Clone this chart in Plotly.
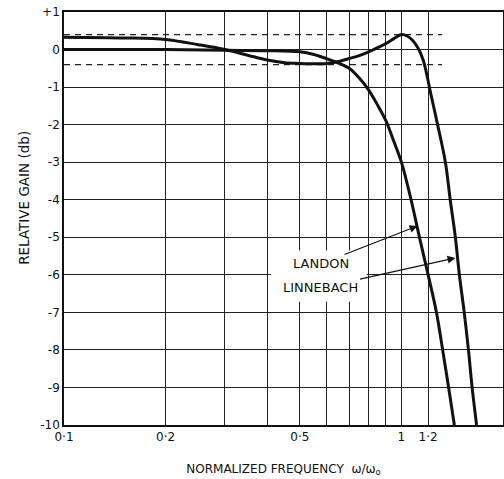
import numpy as np
import plotly.graph_objects as go

# ---- data ----
landon_f = [0.1, 0.2, 0.3, 0.4, 0.5, 0.55, 0.6, 0.65, 0.7, 0.75, 0.8, 0.85, 0.9,
            0.95, 1.0, 1.068, 1.131, 1.2, 1.27, 1.325, 1.38, 1.435]
landon_db = [0.0, 0.0, -0.02, -0.03, -0.06, -0.13, -0.24, -0.36, -0.5, -0.76, -1.08,
             -1.48, -1.9, -2.45, -3.0, -4.0, -5.0, -6.0, -7.0, -8.0, -9.0, -10.0]

linne_f = [0.1, 0.15, 0.2, 0.25, 0.3, 0.35, 0.4, 0.45, 0.5, 0.55, 0.6, 0.65, 0.7,
           0.75, 0.8, 0.85, 0.9, 0.95, 1.0, 1.04, 1.08, 1.12, 1.16, 1.19, 1.22,
           1.28, 1.35, 1.395, 1.445, 1.485, 1.535, 1.58, 1.62, 1.67]
linne_db = [0.33, 0.31, 0.27, 0.13, 0.0, -0.15, -0.28, -0.35, -0.37, -0.38, -0.37,
            -0.32, -0.24, -0.16, -0.06, 0.05, 0.16, 0.29, 0.4, 0.36, 0.24, 0.04,
            -0.28, -0.68, -1.15, -2.0, -3.0, -4.0, -5.0, -6.0, -7.0, -8.0, -9.0,
            -10.0]

tol_f = [0.1, 1.32]
tol_db = [0.4, -0.4]

x_ticks = [0.1, 0.2, 0.5, 1.0, 1.2, 2.0]
x_ticktext = ["0·1", "0·2", "0·5", "1", "1·2", "2"]
x_minor_grid = [0.3, 0.4, 0.6, 0.7, 0.8, 0.9]
y_ticks = list(range(-10, 2))
y_labels = ["+1" if v == 1 else str(v) for v in y_ticks]

label_box_f = [0.41, 0.79]
label_box_db = [-5.35, -6.72]

# (text, text centre x, text centre y, arrow head x, arrow head y)
labels = [
    ("LANDON", 0.576, -5.71, 1.115, -4.7),
    ("LINNEBACH", 0.574, -6.35, 1.445, -5.55),
]

FONT = "DejaVu Sans"
INK = "#111"
fig = go.Figure()

# white box behind labels (interrupts grid)
fig.add_trace(go.Scatter(
    x=[label_box_f[0], label_box_f[1], label_box_f[1], label_box_f[0], label_box_f[0]],
    y=[label_box_db[0], label_box_db[0], label_box_db[1], label_box_db[1], label_box_db[0]],
    fill="toself", fillcolor="white", line=dict(width=0), mode="lines",
    hoverinfo="skip", showlegend=False))

for lv in tol_db:
    fig.add_trace(go.Scatter(x=tol_f, y=[lv, lv], mode="lines",
                             line=dict(color="#222", width=1.3, dash="6px,5px"),
                             showlegend=False))

fig.add_trace(go.Scatter(x=landon_f, y=landon_db, mode="lines", name="LANDON",
                         line=dict(color=INK, width=3, shape="spline", smoothing=0.9),
                         showlegend=False))
fig.add_trace(go.Scatter(x=linne_f, y=linne_db, mode="lines", name="LINNEBACH",
                         line=dict(color=INK, width=3, shape="spline", smoothing=0.9),
                         showlegend=False))

for text, tx, ty, hx, hy in labels:
    fig.add_annotation(x=np.log10(hx), y=hy, ax=np.log10(tx), ay=ty,
                       axref="x", ayref="y", xref="x", yref="y", text=text,
                       showarrow=True, arrowhead=2, arrowsize=1.3, arrowwidth=1.2,
                       arrowcolor=INK, standoff=0, startstandoff=1,
                       font=dict(family=FONT, size=13, color=INK))

# y-axis title placed as a rotated annotation
fig.add_annotation(text="RELATIVE GAIN (db)", textangle=-90, showarrow=False,
                   xref="paper", yref="y", x=-0.114, y=-3.95,
                   font=dict(family=FONT, size=13.5, color=INK))

fig.update_xaxes(type="log", range=[np.log10(0.1), np.log10(2.0)],
                 tickvals=x_ticks, ticktext=x_ticktext,
                 showgrid=True, gridcolor="#222", gridwidth=1.1,
                 minor=dict(tickvals=x_minor_grid, showgrid=True, gridcolor="#222",
                            gridwidth=1.1, ticks=""),
                 showline=True, linecolor=INK, linewidth=1.6, mirror=True,
                 ticks="", zeroline=False,
                 tickfont=dict(family=FONT, size=12, color=INK),
                 title=dict(text="NORMALIZED FREQUENCY  ω/ω<sub>o</sub>",
                            font=dict(family=FONT, size=12, color=INK), standoff=21))
fig.update_yaxes(range=[-10, 1], tickvals=y_ticks, ticktext=y_labels,
                 showgrid=True, gridcolor="#222", gridwidth=1.1,
                 showline=True, linecolor=INK, linewidth=1.6, mirror=True,
                 ticks="", zeroline=False,
                 tickfont=dict(family=FONT, size=12, color=INK))

fig.update_layout(width=504, height=479,
                  margin=dict(l=64, r=1, t=12, b=54, autoexpand=False),
                  plot_bgcolor="white", paper_bgcolor="white")

fig.write_html("out.html")
